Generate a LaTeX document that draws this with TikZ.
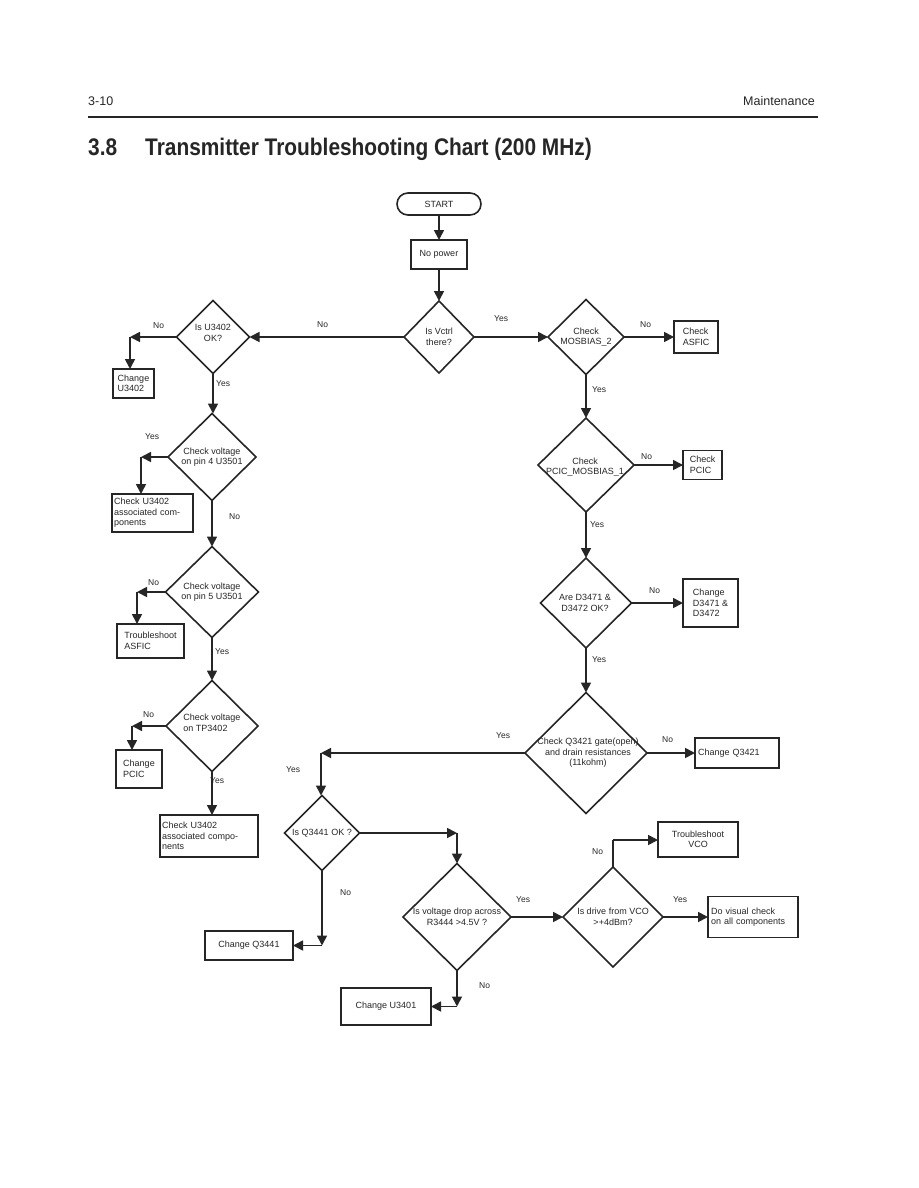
\documentclass[tikz,border=0pt]{standalone}
\usepackage{fontspec}
\setmainfont{Liberation Sans}
\usetikzlibrary{arrows.meta,shapes.geometric}
\definecolor{ink}{HTML}{262626}
\begin{document}
\begin{tikzpicture}[x=1pt,y=-1pt,
  line/.style={draw=ink,line width=1.7pt},
  arr/.style={line,-{Triangle[length=10pt,width=10pt]}},
  box/.style={draw=ink,line width=1.6pt,rectangle,inner sep=2pt,outer sep=0pt,
    font=\fontsize{9}{10.5}\selectfont,align=left,text=ink},
  dia/.style={draw=ink,line width=1.6pt,diamond,inner sep=0pt,outer sep=0pt},
  dtxt/.style={font=\fontsize{9}{10.5}\selectfont,align=center,text=ink,inner sep=0pt},
  lbl/.style={font=\fontsize{8.5}{10}\selectfont,text=ink,anchor=west,inner sep=0pt}
]
\useasboundingbox[fill=white] (0,0) rectangle (918,1188);

% header
\node[anchor=base west,inner sep=0pt,font=\fontsize{12.5}{14}\selectfont,text=ink] (pg) at (88,106) {3-10};
\node[anchor=base east,inner sep=0pt,font=\fontsize{12.5}{14}\selectfont,text=ink] (sec) at (815,106) {Maintenance};
\coordinate (rl) at (88,117);
\coordinate (rr) at (818,117);
\draw[ink,line width=2pt] (rl) -- (rr);
\node[anchor=base west,inner sep=0pt,font=\fontsize{24}{28}\bfseries\selectfont,xscale=0.87,text=ink] (tnum) at (88,155) {3.8};
\node[anchor=base west,inner sep=0pt,font=\fontsize{24}{28}\bfseries\selectfont,xscale=0.87,text=ink] (ttl) at (145,155) {Transmitter Troubleshooting Chart (200 MHz)};

% main column
\node[draw=ink,line width=1.6pt,rectangle,rounded corners=11pt,minimum width=84pt,minimum height=22pt,
  inner sep=0pt,font=\fontsize{9}{10.5}\selectfont,text=ink] (start) at (439,204) {START};
\node[box,minimum width=56pt,minimum height=29pt] (nopower) at (439,254.5) {No power};
\node[dia,minimum width=70pt,minimum height=72pt] (vctrl) at (439,337) {};
\node[dtxt] at (vctrl) {Is Vctrl\\there?};

% left column
\node[dia,minimum width=73pt,minimum height=73pt] (u3402) at (213,337) {};
\node[dtxt] at (213,333) {Is U3402\\OK?};
\node[box,minimum width=41pt,minimum height=29pt] (chgU3402) at (133.5,383.5) {Change\\U3402};

\node[dia,minimum width=88pt,minimum height=87pt] (pin4) at (212,457) {};
\node[dtxt] at (pin4) {Check voltage\\on pin 4 U3501};
\node[box,minimum width=81pt,minimum height=38pt,text width=77pt] (chkA) at (152.5,513) {Check U3402\\associated com-\\ponents};

\node[dia,minimum width=93pt,minimum height=91pt] (pin5) at (212,592) {};
\node[dtxt] at (pin5) {Check voltage\\on pin 5 U3501};
\node[box,minimum width=67pt,minimum height=34pt] (tsASFIC) at (150.5,641) {Troubleshoot\\ASFIC};

\node[dia,minimum width=92pt,minimum height=91pt] (tp) at (212,726) {};
\node[dtxt,align=left] at (212,723) {Check voltage\\on TP3402};
\node[box,minimum width=46pt,minimum height=38pt] (chgPCIC) at (139,769) {Change\\PCIC};
\node[box,minimum width=98pt,minimum height=42pt,text width=94pt] (chkB) at (209,836) {Check U3402\\associated compo-\\nents};

% right column
\node[dia,minimum width=76pt,minimum height=75pt] (mos2) at (586,337) {};
\node[dtxt] at (mos2) {Check\\MOSBIAS\_2};
\node[box,minimum width=44pt,minimum height=32pt,line width=2.1pt] (chkASFIC) at (696,337) {Check\\ASFIC};

\node[dia,minimum width=96pt,minimum height=94pt] (pcic) at (586,465) {};
\node[dtxt] at (585,467) {Check\\PCIC\_MOSBIAS\_1};
\node[box,minimum width=39pt,minimum height=29pt] (chkPCIC) at (702.5,465) {Check\\PCIC};

\node[dia,minimum width=91pt,minimum height=90pt] (d3471) at (586,603) {};
\node[dtxt] at (585,603) {Are D3471 \&\\D3472 OK?};
\node[box,minimum width=55pt,minimum height=48pt] (chgD) at (710.5,603) {Change\\D3471 \&\\D3472};

\node[dia,minimum width=122pt,minimum height=121pt] (q3421) at (586,753) {};
\node[dtxt] at (588,753) {Check Q3421 gate(open)\\and drain resistances\\(11kohm)};
\node[box,minimum width=84pt,minimum height=30pt,text width=78pt] (chgQ3421) at (737,753) {Change Q3421};

% bottom
\node[dia,minimum width=75pt,minimum height=75pt] (q3441) at (322,833) {};
\node[dtxt] at (q3441) {Is Q3441 OK ?};
\node[box,minimum width=88pt,minimum height=29pt] (chgQ3441) at (249,945.5) {Change Q3441};

\node[dia,minimum width=108pt,minimum height=107pt] (r3444) at (457,917) {};
\node[dtxt] at (r3444) {Is voltage drop across\\R3444 \textgreater4.5V ?};
\node[box,minimum width=90pt,minimum height=37pt] (chgU3401) at (386,1006.5) {Change U3401};

\node[dia,minimum width=100pt,minimum height=100pt] (vco) at (613,917) {};
\node[dtxt] at (vco) {Is drive from VCO\\\textgreater+4dBm?};
\node[box,minimum width=80pt,minimum height=35pt,align=center] (tsVCO) at (698,839.5) {Troubleshoot\\VCO};
\node[box,minimum width=90pt,minimum height=41pt,text width=84pt] (visual) at (753,917) {Do visual check\\on all components};

% corner coordinates
\coordinate (c1) at (130,337);
\coordinate (c2) at (141,457);
\coordinate (c3) at (137,592);
\coordinate (c4) at (132,726);
\coordinate (c5) at (321,753);
\coordinate (c6) at (457,833);
\coordinate (c7) at (322,945.5);
\coordinate (c8) at (457,1006.5);
\coordinate (c9) at (613,840);

% connectors
\draw[arr] (start) -- (nopower);
\draw[arr] (nopower) -- (vctrl.north);
\draw[arr] (vctrl.east) -- (mos2.west);
\draw[arr] (vctrl.west) -- (u3402.east);

\draw[arr] (u3402.west) -- (c1);
\draw[arr] (c1) -- (c1 |- chgU3402.north);
\draw[arr] (u3402.south) -- (pin4.north -| u3402.south);
\draw[arr] (pin4.west) -- (c2);
\draw[arr] (c2) -- (c2 |- chkA.north);
\draw[arr] (pin4.south) -- (pin5.north);
\draw[arr] (pin5.west) -- (c3);
\draw[arr] (c3) -- (c3 |- tsASFIC.north);
\draw[arr] (pin5.south) -- (tp.north);
\draw[arr] (tp.west) -- (c4);
\draw[arr] (c4) -- (c4 |- chgPCIC.north);
\draw[arr] (tp.south) -- (tp.south |- chkB.north);

\draw[arr] (mos2.east) -- (chkASFIC.west);
\draw[arr] (mos2.south) -- (pcic.north);
\draw[arr] (pcic.east) -- (chkPCIC.west);
\draw[arr] (pcic.south) -- (d3471.north);
\draw[arr] (d3471.east) -- (chgD.west);
\draw[arr] (d3471.south) -- (q3421.north);
\draw[arr] (q3421.east) -- (chgQ3421.west);
\draw[arr] (q3421.west) -- (c5);
\draw[arr] (c5) -- (c5 |- q3441.north);

\draw[arr] (q3441.east) -- (c6);
\draw[arr] (c6) -- (r3444.north);
\draw[arr] (q3441.south) -- (c7);
\draw[arr] (c7) -- (chgQ3441.east);
\draw[arr] (r3444.east) -- (vco.west);
\draw[arr] (r3444.south) -- (c8);
\draw[arr] (c8) -- (chgU3401.east);
\draw[line] (vco.north) -- (c9);
\draw[arr] (c9) -- (c9 -| tsVCO.west);
\draw[arr] (vco.east) -- (visual.west);

% labels
\node[lbl] (l1) at (494,319) {Yes};
\node[lbl] (l2) at (317,325) {No};
\node[lbl] (l3) at (153,326) {No};
\node[lbl] (l4) at (216,384) {Yes};
\node[lbl] (l5) at (145,437) {Yes};
\node[lbl] (l6) at (229,517) {No};
\node[lbl] (l7) at (148,583) {No};
\node[lbl] (l8) at (215,652) {Yes};
\node[lbl] (l9) at (143,715) {No};
\node[lbl] (l10) at (210,781) {Yes};
\node[lbl] (l11) at (640,325) {No};
\node[lbl] (l12) at (592,390) {Yes};
\node[lbl] (l13) at (641,457) {No};
\node[lbl] (l14) at (590,525) {Yes};
\node[lbl] (l15) at (649,591) {No};
\node[lbl] (l16) at (592,660) {Yes};
\node[lbl] (l17) at (662,740) {No};
\node[lbl] (l18) at (496,736) {Yes};
\node[lbl] (l19) at (286,770) {Yes};
\node[lbl] (l20) at (340,893) {No};
\node[lbl] (l21) at (516,900) {Yes};
\node[lbl] (l22) at (479,986) {No};
\node[lbl] (l23) at (592,852) {No};
\node[lbl] (l24) at (673,900) {Yes};
\end{tikzpicture}
\end{document}
